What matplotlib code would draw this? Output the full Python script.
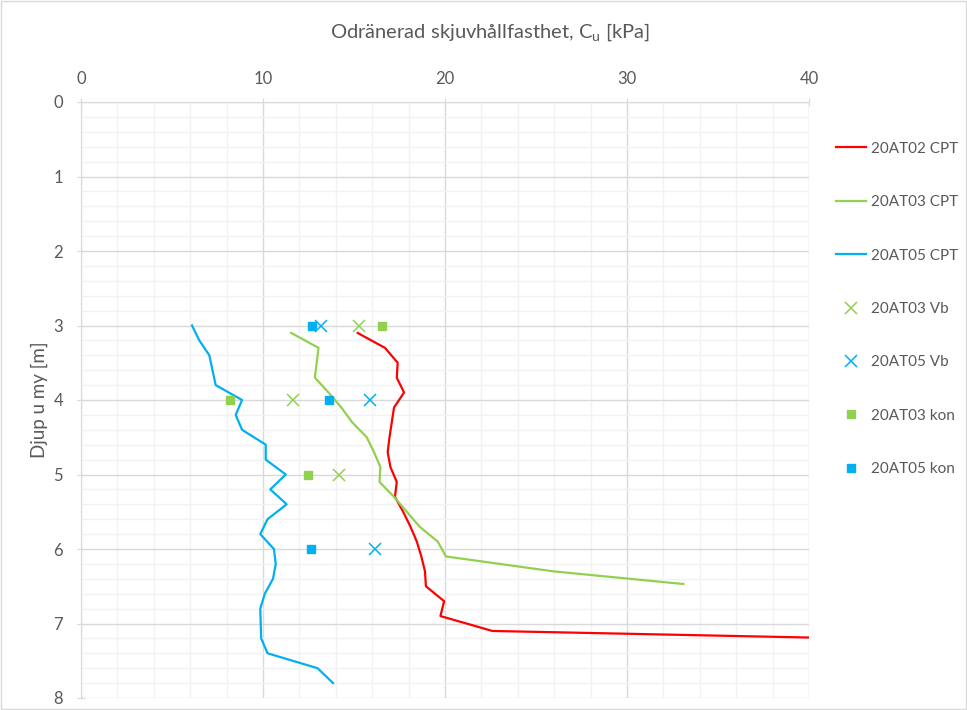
import matplotlib.pyplot as plt
from matplotlib.patches import Rectangle

plt.rcParams['font.family'] = ['Lato', 'DejaVu Sans']
plt.rcParams['font.size'] = 12
txt = '#595959'

# CPT profiles: depth [m] and undrained shear strength [kPa]
at02_depth = [3.1, 3.3, 3.5, 3.7, 3.9, 4.1, 4.5, 4.7, 4.9, 5.1, 5.3, 5.5, 5.7, 5.9,
              6.1, 6.3, 6.5, 6.7, 6.9, 7.1, 7.3]
at02_cu = [15.2, 16.7, 17.4, 17.35, 17.75, 17.2, 16.95, 16.85, 17.0, 17.35, 17.25,
           17.7, 18.1, 18.45, 18.7, 18.9, 18.95, 19.95, 19.75, 22.6, 62.0]

at03_depth = [3.1, 3.3, 3.7, 3.9, 4.1, 4.3, 4.5, 4.7, 4.9, 5.1, 5.3, 5.5, 5.7,
              5.9, 6.1, 6.3, 6.47]
at03_cu = [11.55, 13.05, 12.85, 13.6, 14.3, 14.9, 15.7, 16.1, 16.45, 16.4, 17.2,
           17.9, 18.6, 19.6, 20.05, 25.95, 33.1]

at05_depth = [3.0, 3.2, 3.4, 3.8, 4.0, 4.2, 4.4, 4.6, 4.8, 5.0, 5.2, 5.4, 5.6, 5.8,
              6.0, 6.2, 6.4, 6.6, 6.8, 7.2, 7.4, 7.6, 7.8]
at05_cu = [6.1, 6.5, 7.05, 7.4, 8.85, 8.5, 8.85, 10.15, 10.15, 11.25, 10.4, 11.3,
           10.25, 9.85, 10.6, 10.7, 10.55, 10.1, 9.85, 9.9, 10.25, 13.0, 13.85]

# Vane tests (Vb) and fall-cone tests (kon)
at03_vb_depth = [3.0, 4.0, 5.0]
at03_vb_cu = [15.25, 11.65, 14.2]
at05_vb_depth = [3.0, 4.0, 6.0]
at05_vb_cu = [13.2, 15.9, 16.15]
at03_kon_depth = [3.0, 4.0, 5.0]
at03_kon_cu = [16.55, 8.2, 12.45]
at05_kon_depth = [3.0, 4.0, 6.0]
at05_kon_cu = [12.7, 13.6, 12.65]

red = '#FF0000'
green = '#92D050'
blue = '#00B0F0'

fig = plt.figure(figsize=(9.67, 7.10), dpi=100)
ax = fig.add_axes([81/967, 1-698/710, (809-81)/967, (698-102)/710])

ax.plot(at02_cu, at02_depth, color=red, lw=1.6, label='20AT02 CPT', zorder=3)
ax.plot(at03_cu, at03_depth, color=green, lw=1.6, label='20AT03 CPT', zorder=3)
ax.plot(at05_cu, at05_depth, color=blue, lw=1.6, label='20AT05 CPT', zorder=3)
ax.plot(at03_vb_cu, at03_vb_depth, 'x', color=green, ms=8, mew=1.1, label='20AT03 Vb', zorder=4)
ax.plot(at05_vb_cu, at05_vb_depth, 'x', color=blue, ms=8, mew=1.1, label='20AT05 Vb', zorder=4)
ax.plot(at03_kon_cu, at03_kon_depth, 's', color=green, ms=6, label='20AT03 kon', zorder=4)
ax.plot(at05_kon_cu, at05_kon_depth, 's', color=blue, ms=6, label='20AT05 kon', zorder=4)

ax.set_xlim(0, 40)
ax.set_ylim(8, 0)
ax.set_xticks(range(0, 41, 10))
ax.set_xticks(range(0, 41, 2), minor=True)
ax.set_yticks(range(0, 9))
ax.set_yticks([i * 0.2 for i in range(41)], minor=True)
ax.xaxis.tick_top()
ax.grid(which='major', color='#D9D9D9', lw=1.0)
ax.grid(which='minor', color='#F2F2F2', lw=1.0)
ax.set_axisbelow(True)
for s in ['right', 'bottom']:
    ax.spines[s].set_visible(False)
for s in ['left', 'top']:
    ax.spines[s].set_color('#D9D9D9')
ax.tick_params(which='major', colors='#D9D9D9', labelcolor=txt, labelsize=12,
               direction='inout', length=6, pad=6)
ax.tick_params(which='minor', length=0)
ax.tick_params(axis='x', pad=8)
ax.tick_params(axis='y', pad=10)

ax.set_ylabel('Djup u my [m]', color=txt, fontsize=13.5, labelpad=4)
fig.text(0.507, 0.955, 'Odränerad skjuvhållfasthet, C$_\\mathregular{u}$ [kPa]',
         ha='center', va='center', color=txt, fontsize=14.5)

fig.legend(loc='upper left', bbox_to_anchor=(822/967, 1-128/710), frameon=False,
           labelspacing=2.58, handlelength=2.0, handletextpad=0.3,
           labelcolor=txt, fontsize=11)

fig.patches.append(Rectangle((0.001, 0.001), 0.998, 0.997, transform=fig.transFigure,
                             fill=False, edgecolor='#D9D9D9', lw=1))

fig.savefig('out.png', dpi=100)
